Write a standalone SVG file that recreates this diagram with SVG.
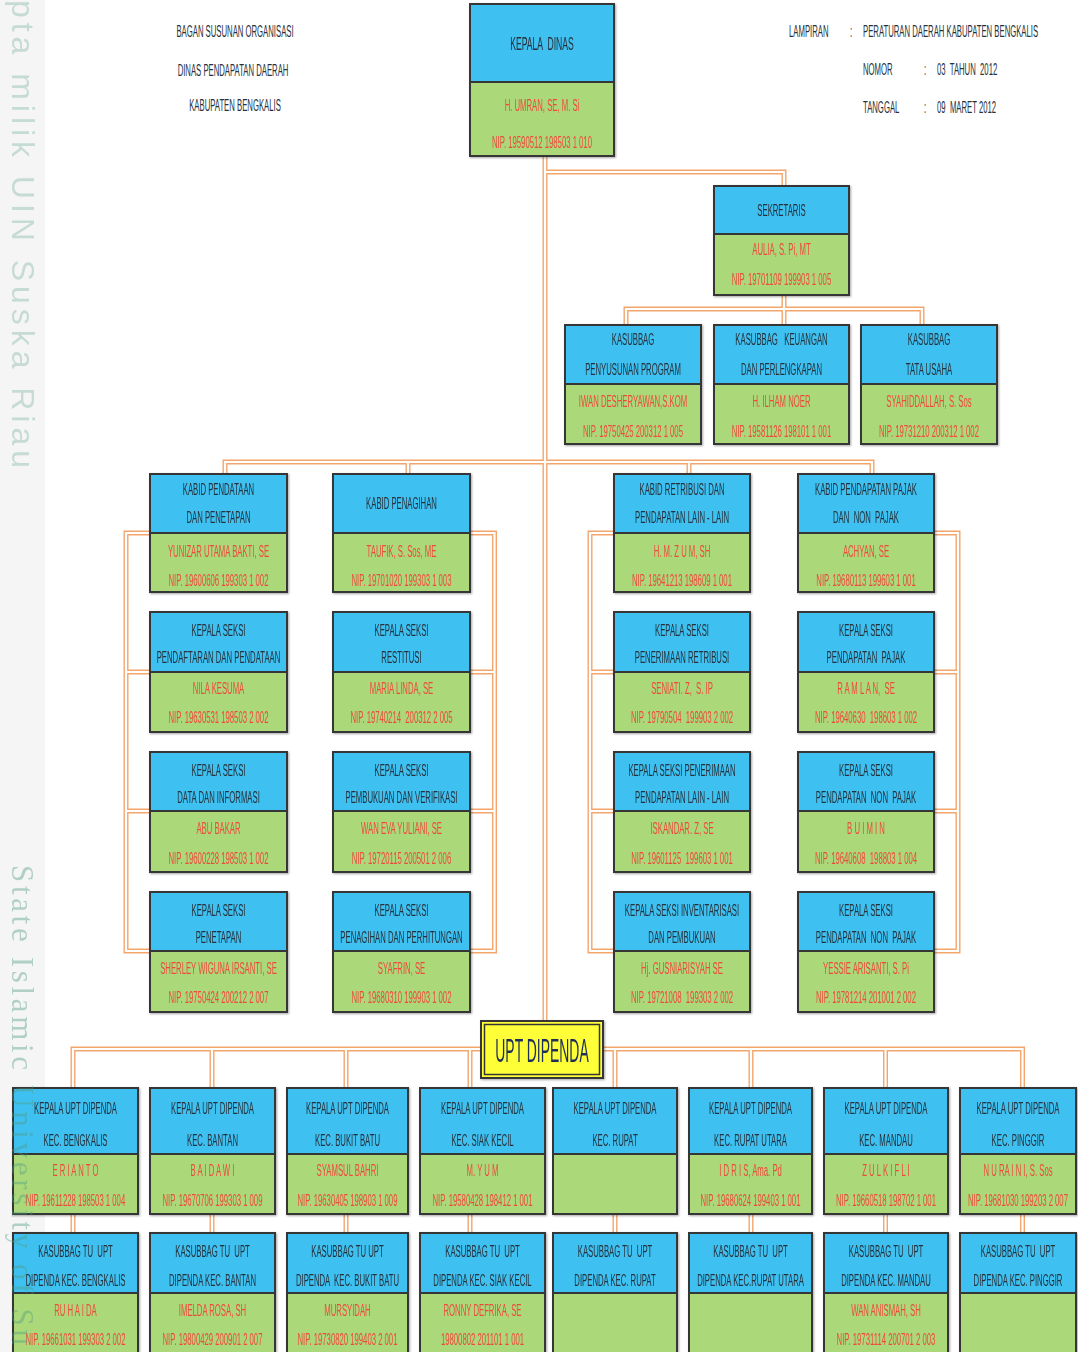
<svg xmlns="http://www.w3.org/2000/svg" xmlns:xlink="http://www.w3.org/1999/xlink" width="1078" height="1352" viewBox="0 0 1078 1352">
<style>
.tx{font-family:"Liberation Sans",Arial,sans-serif;font-size:17px;text-anchor:middle;white-space:pre}
.k{fill:#26313c}
.r{fill:#ee4a3b}
.s{text-anchor:start}
.bl{fill:#3ec0f0;stroke:#363636;stroke-width:2}
.gr{fill:#abd97a;stroke:#363636;stroke-width:2}
.node{filter:drop-shadow(1px 1px 0.8px rgba(0,0,0,0.35))}
</style>
<rect x="0" y="0" width="1078" height="1352" fill="#ffffff"/>
<rect x="0" y="0" width="45" height="1352" fill="#f4f5f4"/>

<g id="header">
<text class="tx k" transform="matrix(.455 0 0 1 235 36.7)">BAGAN SUSUNAN ORGANISASI</text>
<text class="tx k" transform="matrix(.455 0 0 1 233 75.7)">DINAS PENDAPATAN DAERAH</text>
<text class="tx k" transform="matrix(.455 0 0 1 235 110.7)">KABUPATEN BENGKALIS</text>
<text class="tx k s" transform="matrix(.455 0 0 1 789 36.7)">LAMPIRAN</text>
<text class="tx k" transform="matrix(.455 0 0 1 851 36.7)">:</text>
<text class="tx k s" transform="matrix(.455 0 0 1 863 36.7)">PERATURAN DAERAH KABUPATEN BENGKALIS</text>
<text class="tx k s" transform="matrix(.455 0 0 1 863 74.7)">NOMOR</text>
<text class="tx k" transform="matrix(.455 0 0 1 925 74.7)">:</text>
<text class="tx k s" transform="matrix(.455 0 0 1 937 74.7)">03  TAHUN  2012</text>
<text class="tx k s" transform="matrix(.455 0 0 1 863 112.7)">TANGGAL</text>
<text class="tx k" transform="matrix(.455 0 0 1 925 112.7)">:</text>
<text class="tx k s" transform="matrix(.455 0 0 1 937 112.7)">09  MARET 2012</text>
</g>

<g id="connectors" fill="none">
<g stroke="#f3a66c" stroke-width="5">
<g id="wires">
<path d="M545 156 V1020"/>
<path d="M545 172 H784 V186"/>
<path d="M784 295 V325"/>
<path d="M626 325 V309 H922 V325"/>
<path d="M225 474 V462 H872 V474"/>
<path d="M408 462 V474"/>
<path d="M689 462 V474"/>
<path d="M150 533 H126 V951 H150 M126 672 H150 M126 811 H150"/>
<path d="M470 533 H494.5 V951 H470 M494.5 672 H470 M494.5 811 H470"/>
<path d="M614 533 H590 V951 H614 M590 672 H614 M590 811 H614"/>
<path d="M934 533 H958 V951 H934 M958 672 H934 M958 811 H934"/>
<path d="M481 1049 H73 V1088 M212 1049 V1088 M346 1049 V1088 M470 1049 V1088"/>
<path d="M603 1049 H1022.5 V1088 M615 1049 V1088 M751 1049 V1088 M885.5 1049 V1088"/>
<path d="M73 1214 V1233 M212 1214 V1233 M346 1214 V1233 M470 1214 V1233 M615 1214 V1233 M751 1214 V1233 M885.5 1214 V1233 M1022.5 1214 V1233"/>
</g>
</g>
<use xlink:href="#wires" href="#wires" stroke="#ffffff" stroke-width="2.2"/>
</g>

<g id="n-kepala-dinas" class="node">
<rect class="bl" x="470" y="4" width="144" height="78"/>
<rect class="gr" x="470" y="82" width="144" height="74"/>
<text class="tx k" transform="matrix(.48 0 0 1 542 49.5)" style="font-size:18px">KEPALA  DINAS</text>
<text class="tx r" transform="matrix(.455 0 0 1 542 111)">H. UMRAN, SE, M. Si</text>
<text class="tx r" transform="matrix(.455 0 0 1 542 148)">NIP. 19590512 198503 1 010</text>
</g>

<g id="n-sekretaris" class="node">
<rect class="bl" x="714" y="186" width="135" height="48"/>
<rect class="gr" x="714" y="234" width="135" height="61"/>
<text class="tx k" transform="matrix(.455 0 0 1 781.5 216)">SEKRETARIS</text>
<text class="tx r" transform="matrix(.455 0 0 1 781.5 255)">AULIA, S. Pi, MT</text>
<text class="tx r" transform="matrix(.455 0 0 1 781.5 285)">NIP. 19701109 199903 1 005</text>
</g>

<g id="n-kasubbag-program" class="node">
<rect class="bl" x="565" y="325" width="136" height="59"/>
<rect class="gr" x="565" y="384" width="136" height="60"/>
<text class="tx k" transform="matrix(.455 0 0 1 633 345)">KASUBBAG</text>
<text class="tx k" transform="matrix(.455 0 0 1 633 375)">PENYUSUNAN PROGRAM</text>
<text class="tx r" transform="matrix(.455 0 0 1 633 407)">IWAN DESHERYAWAN,S.KOM</text>
<text class="tx r" transform="matrix(.455 0 0 1 633 437)">NIP. 19750425 200312 1 005</text>
</g>
<g id="n-kasubbag-keuangan" class="node">
<rect class="bl" x="714" y="325" width="135" height="59"/>
<rect class="gr" x="714" y="384" width="135" height="60"/>
<text class="tx k" transform="matrix(.455 0 0 1 781.5 345)">KASUBBAG   KEUANGAN</text>
<text class="tx k" transform="matrix(.455 0 0 1 781.5 375)">DAN PERLENGKAPAN</text>
<text class="tx r" transform="matrix(.455 0 0 1 781.5 407)">H. ILHAM NOER</text>
<text class="tx r" transform="matrix(.455 0 0 1 781.5 437)">NIP. 19581126 198101 1 001</text>
</g>
<g id="n-kasubbag-tu" class="node">
<rect class="bl" x="861" y="325" width="136" height="59"/>
<rect class="gr" x="861" y="384" width="136" height="60"/>
<text class="tx k" transform="matrix(.455 0 0 1 929 345)">KASUBBAG</text>
<text class="tx k" transform="matrix(.455 0 0 1 929 375)">TATA USAHA</text>
<text class="tx r" transform="matrix(.455 0 0 1 929 407)">SYAHIDDALLAH, S. Sos</text>
<text class="tx r" transform="matrix(.455 0 0 1 929 437)">NIP. 19731210 200312 1 002</text>
</g>

<g id="n-kabid-pendataan" class="node">
<rect class="bl" x="150" y="474" width="137" height="59"/>
<rect class="gr" x="150" y="533" width="137" height="59"/>
<text class="tx k" transform="matrix(.455 0 0 1 218.5 495)">KABID PENDATAAN</text>
<text class="tx k" transform="matrix(.455 0 0 1 218.5 523)">DAN PENETAPAN</text>
<text class="tx r" transform="matrix(.455 0 0 1 218.5 557)">YUNIZAR UTAMA BAKTI, SE</text>
<text class="tx r" transform="matrix(.455 0 0 1 218.5 586)">NIP. 19600606 199303 1 002</text>
</g>
<g id="n-kabid-penagihan" class="node">
<rect class="bl" x="333" y="474" width="137" height="59"/>
<rect class="gr" x="333" y="533" width="137" height="59"/>
<text class="tx k" transform="matrix(.455 0 0 1 401.5 509)">KABID PENAGIHAN</text>
<text class="tx r" transform="matrix(.455 0 0 1 401.5 557)">TAUFIK, S. Sos, ME</text>
<text class="tx r" transform="matrix(.455 0 0 1 401.5 586)">NIP. 19701020 199303 1 003</text>
</g>
<g id="n-kabid-retribusi" class="node">
<rect class="bl" x="614" y="474" width="136" height="59"/>
<rect class="gr" x="614" y="533" width="136" height="59"/>
<text class="tx k" transform="matrix(.455 0 0 1 682 495)">KABID RETRIBUSI DAN</text>
<text class="tx k" transform="matrix(.455 0 0 1 682 523)">PENDAPATAN LAIN - LAIN</text>
<text class="tx r" transform="matrix(.455 0 0 1 682 557)">H. M. Z U M, SH</text>
<text class="tx r" transform="matrix(.455 0 0 1 682 586)">NIP. 19641213 198609 1 001</text>
</g>
<g id="n-kabid-pajak" class="node">
<rect class="bl" x="798" y="474" width="136" height="59"/>
<rect class="gr" x="798" y="533" width="136" height="59"/>
<text class="tx k" transform="matrix(.455 0 0 1 866 495)">KABID PENDAPATAN PAJAK</text>
<text class="tx k" transform="matrix(.455 0 0 1 866 523)">DAN  NON  PAJAK</text>
<text class="tx r" transform="matrix(.455 0 0 1 866 557)">ACHYAN, SE</text>
<text class="tx r" transform="matrix(.455 0 0 1 866 586)">NIP. 19680113 199603 1 001</text>
</g>

<g id="n-seksi-pendaftaran" class="node">
<rect class="bl" x="150" y="612" width="137" height="60"/>
<rect class="gr" x="150" y="672" width="137" height="60"/>
<text class="tx k" transform="matrix(.455 0 0 1 218.5 636)">KEPALA SEKSI</text>
<text class="tx k" transform="matrix(.455 0 0 1 218.5 663)">PENDAFTARAN DAN PENDATAAN</text>
<text class="tx r" transform="matrix(.455 0 0 1 218.5 694)">NILA KESUMA</text>
<text class="tx r" transform="matrix(.455 0 0 1 218.5 723)">NIP. 19630531 198503 2 002</text>
</g>
<g id="n-seksi-restitusi" class="node">
<rect class="bl" x="333" y="612" width="137" height="60"/>
<rect class="gr" x="333" y="672" width="137" height="60"/>
<text class="tx k" transform="matrix(.455 0 0 1 401.5 636)">KEPALA SEKSI</text>
<text class="tx k" transform="matrix(.455 0 0 1 401.5 663)">RESTITUSI</text>
<text class="tx r" transform="matrix(.455 0 0 1 401.5 694)">MARIA LINDA, SE</text>
<text class="tx r" transform="matrix(.455 0 0 1 401.5 723)">NIP. 19740214  200312 2 005</text>
</g>
<g id="n-seksi-penerimaan-retribusi" class="node">
<rect class="bl" x="614" y="612" width="136" height="60"/>
<rect class="gr" x="614" y="672" width="136" height="60"/>
<text class="tx k" transform="matrix(.455 0 0 1 682 636)">KEPALA SEKSI</text>
<text class="tx k" transform="matrix(.455 0 0 1 682 663)">PENERIMAAN RETRIBUSI</text>
<text class="tx r" transform="matrix(.455 0 0 1 682 694)">SENIATI. Z,  S. IP</text>
<text class="tx r" transform="matrix(.455 0 0 1 682 723)">NIP. 19790504  199903 2 002</text>
</g>
<g id="n-seksi-pendapatan-pajak" class="node">
<rect class="bl" x="798" y="612" width="136" height="60"/>
<rect class="gr" x="798" y="672" width="136" height="60"/>
<text class="tx k" transform="matrix(.455 0 0 1 866 636)">KEPALA SEKSI</text>
<text class="tx k" transform="matrix(.455 0 0 1 866 663)">PENDAPATAN  PAJAK</text>
<text class="tx r" transform="matrix(.455 0 0 1 866 694)">R A M L A N,  SE</text>
<text class="tx r" transform="matrix(.455 0 0 1 866 723)">NIP. 19640630  198603 1 002</text>
</g>

<g id="n-seksi-data" class="node">
<rect class="bl" x="150" y="752" width="137" height="59"/>
<rect class="gr" x="150" y="811" width="137" height="61"/>
<text class="tx k" transform="matrix(.455 0 0 1 218.5 776)">KEPALA SEKSI</text>
<text class="tx k" transform="matrix(.455 0 0 1 218.5 803)">DATA DAN INFORMASI</text>
<text class="tx r" transform="matrix(.455 0 0 1 218.5 834)">ABU BAKAR</text>
<text class="tx r" transform="matrix(.455 0 0 1 218.5 864)">NIP. 19600228 198503 1 002</text>
</g>
<g id="n-seksi-pembukuan" class="node">
<rect class="bl" x="333" y="752" width="137" height="59"/>
<rect class="gr" x="333" y="811" width="137" height="61"/>
<text class="tx k" transform="matrix(.455 0 0 1 401.5 776)">KEPALA SEKSI</text>
<text class="tx k" transform="matrix(.455 0 0 1 401.5 803)">PEMBUKUAN DAN VERIFIKASI</text>
<text class="tx r" transform="matrix(.455 0 0 1 401.5 834)">WAN EVA YULIANI, SE</text>
<text class="tx r" transform="matrix(.455 0 0 1 401.5 864)">NIP. 19720115 200501 2 006</text>
</g>
<g id="n-seksi-penerimaan-lain" class="node">
<rect class="bl" x="614" y="752" width="136" height="59"/>
<rect class="gr" x="614" y="811" width="136" height="61"/>
<text class="tx k" transform="matrix(.455 0 0 1 682 776)">KEPALA SEKSI PENERIMAAN</text>
<text class="tx k" transform="matrix(.455 0 0 1 682 803)">PENDAPATAN LAIN - LAIN</text>
<text class="tx r" transform="matrix(.455 0 0 1 682 834)">ISKANDAR. Z, SE</text>
<text class="tx r" transform="matrix(.455 0 0 1 682 864)">NIP. 19601125  199603 1 001</text>
</g>
<g id="n-seksi-non-pajak-1" class="node">
<rect class="bl" x="798" y="752" width="136" height="59"/>
<rect class="gr" x="798" y="811" width="136" height="61"/>
<text class="tx k" transform="matrix(.455 0 0 1 866 776)">KEPALA SEKSI</text>
<text class="tx k" transform="matrix(.455 0 0 1 866 803)">PENDAPATAN  NON  PAJAK</text>
<text class="tx r" transform="matrix(.455 0 0 1 866 834)">B U I M I N</text>
<text class="tx r" transform="matrix(.455 0 0 1 866 864)">NIP. 19640608  198803 1 004</text>
</g>

<g id="n-seksi-penetapan" class="node">
<rect class="bl" x="150" y="892" width="137" height="59"/>
<rect class="gr" x="150" y="951" width="137" height="61"/>
<text class="tx k" transform="matrix(.455 0 0 1 218.5 916)">KEPALA SEKSI</text>
<text class="tx k" transform="matrix(.455 0 0 1 218.5 943)">PENETAPAN</text>
<text class="tx r" transform="matrix(.455 0 0 1 218.5 974)">SHERLEY WIGUNA IRSANTI, SE</text>
<text class="tx r" transform="matrix(.455 0 0 1 218.5 1003)">NIP. 19750424 200212 2 007</text>
</g>
<g id="n-seksi-penagihan" class="node">
<rect class="bl" x="333" y="892" width="137" height="59"/>
<rect class="gr" x="333" y="951" width="137" height="61"/>
<text class="tx k" transform="matrix(.455 0 0 1 401.5 916)">KEPALA SEKSI</text>
<text class="tx k" transform="matrix(.455 0 0 1 401.5 943)">PENAGIHAN DAN PERHITUNGAN</text>
<text class="tx r" transform="matrix(.455 0 0 1 401.5 974)">SYAFRIN, SE</text>
<text class="tx r" transform="matrix(.455 0 0 1 401.5 1003)">NIP. 19680310 199903 1 002</text>
</g>
<g id="n-seksi-inventarisasi" class="node">
<rect class="bl" x="614" y="892" width="136" height="59"/>
<rect class="gr" x="614" y="951" width="136" height="61"/>
<text class="tx k" transform="matrix(.455 0 0 1 682 916)">KEPALA SEKSI INVENTARISASI</text>
<text class="tx k" transform="matrix(.455 0 0 1 682 943)">DAN PEMBUKUAN</text>
<text class="tx r" transform="matrix(.455 0 0 1 682 974)">Hj. GUSNIARISYAH SE</text>
<text class="tx r" transform="matrix(.455 0 0 1 682 1003)">NIP. 19721008  199303 2 002</text>
</g>
<g id="n-seksi-non-pajak-2" class="node">
<rect class="bl" x="798" y="892" width="136" height="59"/>
<rect class="gr" x="798" y="951" width="136" height="61"/>
<text class="tx k" transform="matrix(.455 0 0 1 866 916)">KEPALA SEKSI</text>
<text class="tx k" transform="matrix(.455 0 0 1 866 943)">PENDAPATAN  NON  PAJAK</text>
<text class="tx r" transform="matrix(.455 0 0 1 866 974)">YESSIE ARISANTI, S. Pi</text>
<text class="tx r" transform="matrix(.455 0 0 1 866 1003)">NIP. 19781214 201001 2 002</text>
</g>

<g id="n-upt-dipenda" class="node">
<rect x="481" y="1021" width="122" height="57" fill="#ffff38" stroke="#363636" stroke-width="2"/>
<rect x="484.5" y="1024.5" width="115" height="50" fill="none" stroke="#363636" stroke-width="1.5"/>
<text class="tx" transform="matrix(.41 0 0 1 542 1062)" style="font-size:34px;fill:#1d2d5c">UPT DIPENDA</text>
</g>

<g id="n-upt-bengkalis" class="node">
<rect class="bl" x="13" y="1088" width="125" height="66"/>
<rect class="gr" x="13" y="1154" width="125" height="60"/>
<text class="tx k" transform="matrix(.455 0 0 1 75.5 1114)">KEPALA UPT DIPENDA</text>
<text class="tx k" transform="matrix(.455 0 0 1 75.5 1146)">KEC. BENGKALIS</text>
<text class="tx r" transform="matrix(.455 0 0 1 75.5 1176)">E R I A N T O</text>
<text class="tx r" transform="matrix(.455 0 0 1 75.5 1206)">NIP. 19611228 198503 1 004</text>
</g>
<g id="n-upt-bantan" class="node">
<rect class="bl" x="150" y="1088" width="125" height="66"/>
<rect class="gr" x="150" y="1154" width="125" height="60"/>
<text class="tx k" transform="matrix(.455 0 0 1 212.5 1114)">KEPALA UPT DIPENDA</text>
<text class="tx k" transform="matrix(.455 0 0 1 212.5 1146)">KEC. BANTAN</text>
<text class="tx r" transform="matrix(.455 0 0 1 212.5 1176)">B A I D A W I</text>
<text class="tx r" transform="matrix(.455 0 0 1 212.5 1206)">NIP. 19670706 199303 1 009</text>
</g>
<g id="n-upt-bukit-batu" class="node">
<rect class="bl" x="287" y="1088" width="121" height="66"/>
<rect class="gr" x="287" y="1154" width="121" height="60"/>
<text class="tx k" transform="matrix(.455 0 0 1 347.5 1114)">KEPALA UPT DIPENDA</text>
<text class="tx k" transform="matrix(.455 0 0 1 347.5 1146)">KEC. BUKIT BATU</text>
<text class="tx r" transform="matrix(.455 0 0 1 347.5 1176)">SYAMSUL BAHRI</text>
<text class="tx r" transform="matrix(.455 0 0 1 347.5 1206)">NIP. 19630405 198903 1 009</text>
</g>
<g id="n-upt-siak-kecil" class="node">
<rect class="bl" x="420" y="1088" width="125" height="66"/>
<rect class="gr" x="420" y="1154" width="125" height="60"/>
<text class="tx k" transform="matrix(.455 0 0 1 482.5 1114)">KEPALA UPT DIPENDA</text>
<text class="tx k" transform="matrix(.455 0 0 1 482.5 1146)">KEC. SIAK KECIL</text>
<text class="tx r" transform="matrix(.455 0 0 1 482.5 1176)">M. Y U M</text>
<text class="tx r" transform="matrix(.455 0 0 1 482.5 1206)">NIP. 19580428 198412 1 001</text>
</g>
<g id="n-upt-rupat" class="node">
<rect class="bl" x="553" y="1088" width="124" height="66"/>
<rect class="gr" x="553" y="1154" width="124" height="60"/>
<text class="tx k" transform="matrix(.455 0 0 1 615 1114)">KEPALA UPT DIPENDA</text>
<text class="tx k" transform="matrix(.455 0 0 1 615 1146)">KEC. RUPAT</text>
</g>
<g id="n-upt-rupat-utara" class="node">
<rect class="bl" x="689" y="1088" width="123" height="66"/>
<rect class="gr" x="689" y="1154" width="123" height="60"/>
<text class="tx k" transform="matrix(.455 0 0 1 750.5 1114)">KEPALA UPT DIPENDA</text>
<text class="tx k" transform="matrix(.455 0 0 1 750.5 1146)">KEC. RUPAT UTARA</text>
<text class="tx r" transform="matrix(.455 0 0 1 750.5 1176)">I D R I S, Ama. Pd</text>
<text class="tx r" transform="matrix(.455 0 0 1 750.5 1206)">NIP. 19680624 199403 1 001</text>
</g>
<g id="n-upt-mandau" class="node">
<rect class="bl" x="824" y="1088" width="124" height="66"/>
<rect class="gr" x="824" y="1154" width="124" height="60"/>
<text class="tx k" transform="matrix(.455 0 0 1 886 1114)">KEPALA UPT DIPENDA</text>
<text class="tx k" transform="matrix(.455 0 0 1 886 1146)">KEC. MANDAU</text>
<text class="tx r" transform="matrix(.455 0 0 1 886 1176)">Z U L K I F L I</text>
<text class="tx r" transform="matrix(.455 0 0 1 886 1206)">NIP. 19660518 198702 1 001</text>
</g>
<g id="n-upt-pinggir" class="node">
<rect class="bl" x="960" y="1088" width="116" height="66"/>
<rect class="gr" x="960" y="1154" width="116" height="60"/>
<text class="tx k" transform="matrix(.455 0 0 1 1018 1114)">KEPALA UPT DIPENDA</text>
<text class="tx k" transform="matrix(.455 0 0 1 1018 1146)">KEC. PINGGIR</text>
<text class="tx r" transform="matrix(.455 0 0 1 1018 1176)">N U RA I N I, S. Sos</text>
<text class="tx r" transform="matrix(.455 0 0 1 1018 1206)">NIP. 19681030 199203 2 007</text>
</g>

<g id="n-tu-bengkalis" class="node">
<rect class="bl" x="13" y="1233" width="125" height="60"/>
<rect class="gr" x="13" y="1293" width="125" height="64"/>
<text class="tx k" transform="matrix(.455 0 0 1 75.5 1257)">KASUBBAG TU  UPT</text>
<text class="tx k" transform="matrix(.455 0 0 1 75.5 1286)">DIPENDA KEC. BENGKALIS</text>
<text class="tx r" transform="matrix(.455 0 0 1 75.5 1316)">RU H A I DA</text>
<text class="tx r" transform="matrix(.455 0 0 1 75.5 1345)">NIP. 19661031 199303 2 002</text>
</g>
<g id="n-tu-bantan" class="node">
<rect class="bl" x="150" y="1233" width="125" height="60"/>
<rect class="gr" x="150" y="1293" width="125" height="64"/>
<text class="tx k" transform="matrix(.455 0 0 1 212.5 1257)">KASUBBAG TU  UPT</text>
<text class="tx k" transform="matrix(.455 0 0 1 212.5 1286)">DIPENDA KEC. BANTAN</text>
<text class="tx r" transform="matrix(.455 0 0 1 212.5 1316)">IMELDA ROSA, SH</text>
<text class="tx r" transform="matrix(.455 0 0 1 212.5 1345)">NIP. 19800429 200901 2 007</text>
</g>
<g id="n-tu-bukit-batu" class="node">
<rect class="bl" x="287" y="1233" width="121" height="60"/>
<rect class="gr" x="287" y="1293" width="121" height="64"/>
<text class="tx k" transform="matrix(.455 0 0 1 347.5 1257)">KASUBBAG TU UPT</text>
<text class="tx k" transform="matrix(.455 0 0 1 347.5 1286)">DIPENDA  KEC. BUKIT BATU</text>
<text class="tx r" transform="matrix(.455 0 0 1 347.5 1316)">MURSYIDAH</text>
<text class="tx r" transform="matrix(.455 0 0 1 347.5 1345)">NIP. 19730820 199403 2 001</text>
</g>
<g id="n-tu-siak-kecil" class="node">
<rect class="bl" x="420" y="1233" width="125" height="60"/>
<rect class="gr" x="420" y="1293" width="125" height="64"/>
<text class="tx k" transform="matrix(.455 0 0 1 482.5 1257)">KASUBBAG TU  UPT</text>
<text class="tx k" transform="matrix(.455 0 0 1 482.5 1286)">DIPENDA KEC. SIAK KECIL</text>
<text class="tx r" transform="matrix(.455 0 0 1 482.5 1316)">RONNY DEFRIKA, SE</text>
<text class="tx r" transform="matrix(.455 0 0 1 482.5 1345)">19800802 201101 1 001</text>
</g>
<g id="n-tu-rupat" class="node">
<rect class="bl" x="553" y="1233" width="124" height="60"/>
<rect class="gr" x="553" y="1293" width="124" height="64"/>
<text class="tx k" transform="matrix(.455 0 0 1 615 1257)">KASUBBAG TU  UPT</text>
<text class="tx k" transform="matrix(.455 0 0 1 615 1286)">DIPENDA KEC. RUPAT</text>
</g>
<g id="n-tu-rupat-utara" class="node">
<rect class="bl" x="689" y="1233" width="123" height="60"/>
<rect class="gr" x="689" y="1293" width="123" height="64"/>
<text class="tx k" transform="matrix(.455 0 0 1 750.5 1257)">KASUBBAG TU  UPT</text>
<text class="tx k" transform="matrix(.455 0 0 1 750.5 1286)">DIPENDA KEC.RUPAT UTARA</text>
</g>
<g id="n-tu-mandau" class="node">
<rect class="bl" x="824" y="1233" width="124" height="60"/>
<rect class="gr" x="824" y="1293" width="124" height="64"/>
<text class="tx k" transform="matrix(.455 0 0 1 886 1257)">KASUBBAG TU  UPT</text>
<text class="tx k" transform="matrix(.455 0 0 1 886 1286)">DIPENDA KEC. MANDAU</text>
<text class="tx r" transform="matrix(.455 0 0 1 886 1316)">WAN ANISMAH, SH</text>
<text class="tx r" transform="matrix(.455 0 0 1 886 1345)">NIP. 19731114 200701 2 003</text>
</g>
<g id="n-tu-pinggir" class="node">
<rect class="bl" x="960" y="1233" width="116" height="60"/>
<rect class="gr" x="960" y="1293" width="116" height="64"/>
<text class="tx k" transform="matrix(.455 0 0 1 1018 1257)">KASUBBAG TU  UPT</text>
<text class="tx k" transform="matrix(.455 0 0 1 1018 1286)">DIPENDA KEC. PINGGIR</text>
</g>

<g id="watermark">
<text transform="translate(12 0) rotate(90)" x="0" y="0" textLength="468" lengthAdjust="spacing" style="font-family:'Liberation Sans',Arial,sans-serif;font-size:32px;fill:#5fa08a;opacity:0.3">pta milik UIN Suska Riau</text>
<text transform="translate(12 865) rotate(90)" x="0" y="0" textLength="480" lengthAdjust="spacing" style="font-family:'Liberation Serif','Times New Roman',serif;font-size:31px;fill:#4f9a80;opacity:0.4">State Islamic University of Su</text>
</g>
</svg>
